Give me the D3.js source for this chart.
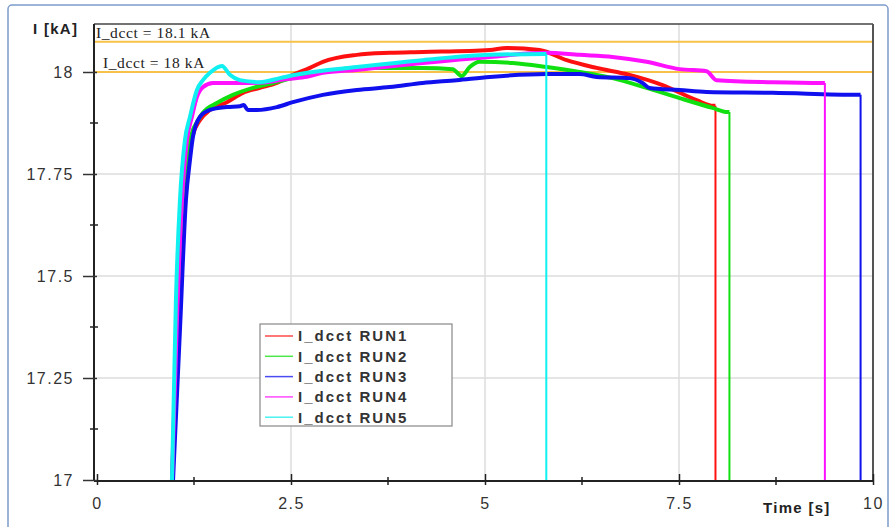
<!DOCTYPE html>
<html>
<head>
<meta charset="utf-8">
<script src="https://cdn.jsdelivr.net/npm/d3@7"></script>
<style>
  body { margin: 0; background: #fff; }
  svg { display: block; }
  .tick-label { font-family: "Liberation Sans", Arial, sans-serif; font-size: 16px; fill: #333; letter-spacing: 1.5px; }
</style>
</head>
<body>
<div id="chart"></div>
<script>
const width = 893;
const height = 527;

// time [s] / current [kA]
const run1T = [0.966, 1.043, 1.107, 1.172, 1.236, 1.326, 1.455, 1.674, 1.880, 2.099, 2.318, 2.524, 2.743, 2.910, 3.348, 3.773, 4.198, 5.061, 5.279, 5.704, 6.052, 6.438, 6.863, 7.288, 7.726, 7.945];
const run1V = [17.0, 17.319, 17.686, 17.784, 17.846, 17.882, 17.907, 17.926, 17.949, 17.961, 17.973, 17.993, 18.010, 18.025, 18.042, 18.047, 18.049, 18.054, 18.059, 18.054, 18.029, 18.010, 17.993, 17.968, 17.931, 17.917];
const run2T = [0.966, 1.043, 1.107, 1.172, 1.236, 1.288, 1.365, 1.545, 1.751, 2.009, 2.266, 2.524, 2.910, 3.348, 4.198, 4.584, 4.700, 4.803, 4.932, 5.357, 5.795, 6.219, 6.644, 7.082, 7.507, 7.932, 8.125];
const run2V = [17.0, 17.368, 17.686, 17.809, 17.858, 17.877, 17.900, 17.924, 17.944, 17.961, 17.973, 17.985, 18.000, 18.010, 18.010, 18.007, 17.990, 18.012, 18.025, 18.022, 18.012, 18.000, 17.985, 17.961, 17.936, 17.912, 17.902];
const run3T = [0.980, 1.069, 1.146, 1.198, 1.236, 1.326, 1.455, 1.674, 1.841, 1.890, 1.944, 2.060, 2.318, 2.524, 2.910, 3.348, 3.773, 4.198, 4.636, 5.061, 5.795, 6.219, 6.438, 6.863, 7.031, 7.121, 7.507, 7.855, 8.705, 9.799];
const run3V = [17.0, 17.368, 17.686, 17.784, 17.841, 17.890, 17.907, 17.914, 17.916, 17.919, 17.907, 17.907, 17.914, 17.926, 17.944, 17.956, 17.963, 17.973, 17.980, 17.988, 17.995, 17.995, 17.988, 17.985, 17.973, 17.961, 17.956, 17.951, 17.949, 17.944];
const run4T = [0.966, 1.030, 1.095, 1.159, 1.223, 1.288, 1.365, 1.494, 1.674, 1.932, 2.189, 2.447, 2.704, 2.910, 3.348, 4.198, 5.061, 5.795, 6.219, 6.644, 7.082, 7.507, 7.855, 7.983, 8.705, 9.349];
const run4V = [17.0, 17.392, 17.686, 17.833, 17.890, 17.939, 17.963, 17.973, 17.973, 17.973, 17.975, 17.983, 17.988, 17.998, 18.005, 18.022, 18.037, 18.047, 18.042, 18.037, 18.025, 18.007, 18.002, 17.980, 17.975, 17.973];
const run5T = [0.966, 1.017, 1.069, 1.133, 1.198, 1.288, 1.365, 1.455, 1.610, 1.713, 1.841, 2.099, 2.356, 2.614, 3.348, 4.198, 5.061, 5.769];
const run5V = [17.0, 17.441, 17.686, 17.833, 17.890, 17.956, 17.980, 17.998, 18.015, 17.993, 17.980, 17.975, 17.985, 17.995, 18.012, 18.029, 18.042, 18.044];

const runNames = ["I_dcct RUN1", "I_dcct RUN2", "I_dcct RUN3", "I_dcct RUN4", "I_dcct RUN5"];
const stopTimes = [7.97, 8.15, 9.84, 9.38, 5.79]; // where each run falls back to 17 kA
const refValues = [18.074, 18.0];
const refLabels = ["I_dcct = 18.1 kA", "I_dcct = 18 kA"];
const xMajor = [0, 2.5, 5, 7.5, 10];
const xMinor = [1.25, 3.75, 6.25, 8.75];
const yMajor = [17, 17.25, 17.5, 17.75, 18];
const yMinor = [17.125, 17.375, 17.625, 17.875];

const colors = ["#ff1010", "#10e010", "#1010ee", "#ff10ff", "#10f0f0"];

const runs = [[run1T, run1V], [run2T, run2V], [run3T, run3V], [run4T, run4V], [run5T, run5V]]
    .map(([t, v], i) => ({ name: runNames[i], stop: stopTimes[i], pts: t.map((d, j) => [d, v[j]]) }));

const svg = d3.select("#chart").append("svg")
    .attr("width", width)
    .attr("height", height);

// outer frame of the slide
svg.append("rect")
    .attr("x", 8).attr("y", 5)
    .attr("width", 880).attr("height", 540)
    .attr("rx", 4)
    .attr("fill", "none")
    .attr("stroke", "#7c9ccb")
    .attr("stroke-width", 1.5);

const x = d3.scaleLinear().domain([0, 10]).range([97, 873]);
const y = d3.scaleLinear().domain([17, 18]).range([480, 72]);
const plotLeft = 94, plotTop = 24;

// grid
svg.append("g").selectAll("line")
    .data(xMajor.slice(1, -1))
    .join("line")
    .attr("x1", d => x(d)).attr("x2", d => x(d))
    .attr("y1", plotTop).attr("y2", y(17))
    .attr("stroke", "#dcdcdc").attr("stroke-width", 1.5);

svg.append("g").selectAll("line")
    .data(yMajor.slice(1))
    .join("line")
    .attr("x1", plotLeft).attr("x2", x(10))
    .attr("y1", d => y(d)).attr("y2", d => y(d))
    .attr("stroke", "#dcdcdc").attr("stroke-width", 1.5);

// reference lines
svg.append("g").selectAll("line")
    .data(refValues)
    .join("line")
    .attr("x1", plotLeft).attr("x2", x(10))
    .attr("y1", d => y(d)).attr("y2", d => y(d))
    .attr("stroke", "#f8c24a").attr("stroke-width", 2);

svg.append("g").selectAll("text")
    .data(refLabels)
    .join("text")
    .attr("x", (d, i) => i === 0 ? 96 : 103)
    .attr("y", (d, i) => y(refValues[i]) - 4)
    .attr("font-family", "'Liberation Serif', 'Times New Roman', serif")
    .attr("font-size", 15.5)
    .attr("letter-spacing", "0.6px")
    .attr("fill", "#222")
    .text(d => d);

// series
const line = d3.line()
    .x(d => x(d[0]))
    .y(d => y(d[1]))
    .curve(d3.curveMonotoneX);

const series = svg.append("g");
runs.forEach((r, i) => {
    const last = r.pts[r.pts.length - 1];
    series.append("path")
        .attr("d", line(r.pts.concat([[r.stop, last[1]]])))
        .attr("fill", "none")
        .attr("stroke", colors[i])
        .attr("stroke-width", 4)
        .attr("stroke-linejoin", "round");
    series.append("line")
        .attr("x1", x(r.stop)).attr("x2", x(r.stop))
        .attr("y1", y(last[1])).attr("y2", y(17))
        .attr("stroke", colors[i])
        .attr("stroke-width", 2);
});

// axes frame
svg.append("line")
    .attr("x1", plotLeft).attr("x2", x(10)).attr("y1", plotTop).attr("y2", plotTop)
    .attr("stroke", "#444").attr("stroke-width", 1.5);
svg.append("line")
    .attr("x1", x(10)).attr("x2", x(10)).attr("y1", plotTop).attr("y2", y(17) + 1)
    .attr("stroke", "#555").attr("stroke-width", 2);

const xAxis = svg.append("g")
    .attr("transform", `translate(0,${y(17) + 1})`)
    .call(d3.axisBottom(x).tickValues(xMajor).tickFormat(d3.format("")).tickSize(5).tickPadding(12));
xAxis.select(".domain").attr("d", `M${plotLeft},0H${x(10)}`).attr("stroke", "#222").attr("stroke-width", 2);
xAxis.selectAll(".tick line").attr("y1", -7).attr("y2", 4).attr("stroke", "#222").attr("stroke-width", 1.5);
xAxis.selectAll(".tick text").attr("class", "tick-label").attr("font-size", null).attr("font-family", null).attr("fill", null);

xAxis.selectAll(".minor")
    .data(xMinor)
    .join("line")
    .attr("class", "minor")
    .attr("x1", d => x(d)).attr("x2", d => x(d))
    .attr("y1", -4).attr("y2", 4)
    .attr("stroke", "#222").attr("stroke-width", 1.5);

const yAxis = svg.append("g")
    .attr("transform", `translate(${plotLeft},0)`)
    .call(d3.axisLeft(y).tickValues(yMajor).tickFormat(d3.format("")).tickSize(11).tickPadding(9));
yAxis.select(".domain").attr("d", `M0,${plotTop}V${y(17) + 1}`).attr("stroke", "#222").attr("stroke-width", 2);
yAxis.selectAll(".tick line").attr("x1", -11).attr("x2", 3).attr("stroke", "#333").attr("stroke-width", 1.5);
yAxis.selectAll(".tick text").attr("class", "tick-label").attr("font-size", null).attr("font-family", null).attr("fill", null);

yAxis.selectAll(".minor")
    .data(yMinor)
    .join("line")
    .attr("class", "minor")
    .attr("x1", -4).attr("x2", 4)
    .attr("y1", d => y(d)).attr("y2", d => y(d))
    .attr("stroke", "#222").attr("stroke-width", 1.5);

// axis titles
svg.append("text")
    .attr("x", 33).attr("y", 34)
    .attr("font-family", "'Liberation Sans', Arial, sans-serif")
    .attr("font-weight", "bold").attr("font-size", 15)
    .attr("letter-spacing", "1.3px")
    .attr("fill", "#222")
    .text("I [kA]");

svg.append("text")
    .attr("x", 763).attr("y", 513)
    .attr("font-family", "'Liberation Sans', Arial, sans-serif")
    .attr("font-weight", "bold").attr("font-size", 15)
    .attr("letter-spacing", "1.3px")
    .attr("fill", "#222")
    .text("Time [s]");

// legend
const legend = svg.append("g").attr("transform", "translate(260,324)");
legend.append("rect")
    .attr("width", 192).attr("height", 102)
    .attr("fill", "#fff")
    .attr("stroke", "#888").attr("stroke-width", 1.2);

const entry = legend.selectAll(".entry")
    .data(runs)
    .join("g")
    .attr("class", "entry")
    .attr("transform", (d, i) => `translate(0,${12 + i * 20.3})`);

entry.append("line")
    .attr("x1", 5).attr("x2", 33)
    .attr("stroke", (d, i) => colors[i])
    .attr("stroke-width", 1.5)
    .attr("opacity", 0.75);

entry.append("text")
    .attr("x", 38).attr("dy", "0.36em")
    .attr("font-family", "'Liberation Sans', Arial, sans-serif")
    .attr("font-weight", "bold").attr("font-size", 15)
    .attr("letter-spacing", "2px")
    .attr("fill", "#333")
    .text(d => d.name);
</script>
</body>
</html>
